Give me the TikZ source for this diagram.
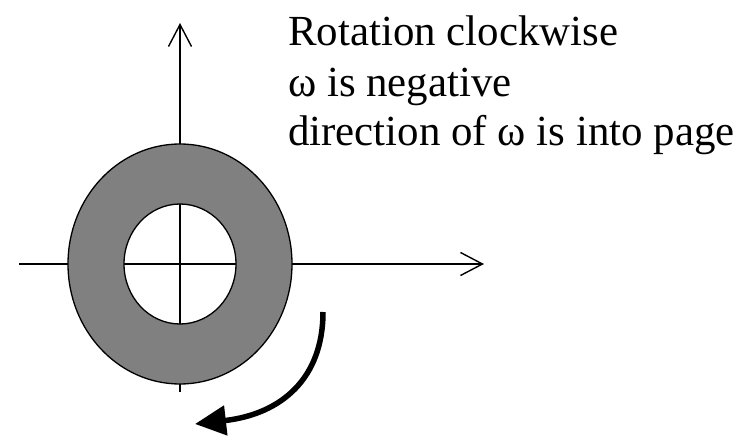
\documentclass[tikz,border=0pt]{standalone}
\usepackage{fontspec}
\setmainfont{Liberation Serif}
\usepackage{tikz}
\usetikzlibrary{arrows.meta}

\begin{document}
\begin{tikzpicture}[
    x = 1pt, y = -1pt,
    >=Stealth,
    every node/.style = {font=\fontsize{42.9}{50}\selectfont, inner sep=0pt},
    % Named styles
    axis/.style     = {-{Straight Barb[length=22pt,width=23pt]}, line width=1.4pt},
    ringfill/.style = {fill=black!50, even odd rule},
    rim/.style      = {draw=black, line width=1.3pt},
    spin/.style     = {-{Triangle[length=31pt,width=29pt]}, line width=5.5pt},
]

% ── Frame (pixel units, y down) ──────────────────────────────────────────────
\useasboundingbox (0,0) rectangle (756,436);

% ── Dimensions ───────────────────────────────────────────────────────────────
\def\Rx{112}    % outer x radius
\def\Ry{120}    % outer y radius
\def\rx{56}     % inner x radius
\def\ry{60}     % inner y radius

\coordinate (O) at (180,264);

% ── Axes ─────────────────────────────────────────────────────────────────────
\coordinate (xl) at (19,264);
\coordinate (xr) at (484,264);
\coordinate (yb) at (180,392);
\coordinate (yt) at (180,23);
\draw[axis] (xl) -- (xr);
\draw[axis] (yb) -- (yt);

% ── Ring (annulus) ───────────────────────────────────────────────────────────
\fill[ringfill] (O) ellipse [x radius=\Rx, y radius=\Ry]
                (O) ellipse [x radius=\rx, y radius=\ry];
\draw[rim] (O) ellipse [x radius=\Rx, y radius=\Ry];
\draw[rim] (O) ellipse [x radius=\rx, y radius=\ry];

% ── Sense of rotation ────────────────────────────────────────────────────────
\coordinate (spinA) at (323,312);
\coordinate (spinB) at (195,424);
\draw[spin] (spinA) .. controls (323,378) and (282,414) .. (spinB);

% ── Text ─────────────────────────────────────────────────────────────────────
\node[anchor=base west] (rot) at (288,46)  {Rotation clockwise};
\node[anchor=base west] (neg) at (288,96)  {ω is negative};
\node[anchor=base west] (dir) at (288,146) {direction of ω is into page};

\end{tikzpicture}
\end{document}
